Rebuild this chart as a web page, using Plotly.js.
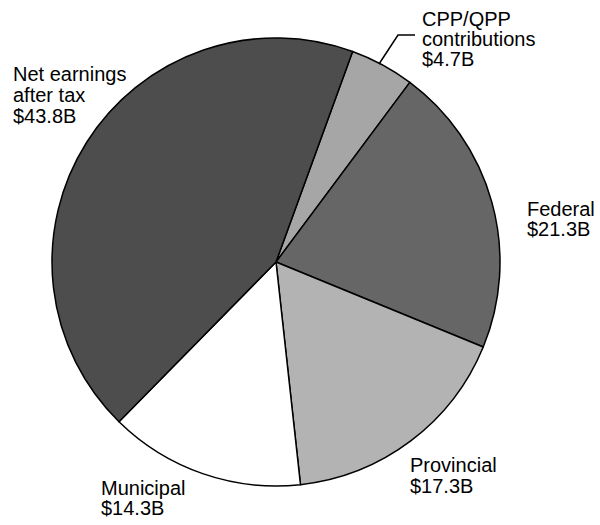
<!DOCTYPE html>
<html>
<head>
<meta charset="utf-8">
<script src="https://cdn.plot.ly/plotly-3.0.1.min.js"></script>
<style>html,body{margin:0;padding:0;background:#fff;}#chart{width:600px;height:525px;}</style>
</head>
<body>
<div id="chart"></div>
<script>
// ---- data ----
var categories = ['CPP/QPP contributions', 'Federal', 'Provincial', 'Municipal', 'Net earnings after tax'];
var labelLines = [['CPP/QPP', 'contributions'], ['Federal'], ['Provincial'], ['Municipal'], ['Net earnings', 'after tax']];
var values = [4.7, 21.3, 17.3, 14.3, 43.8];
var colors = ['#a6a6a6', '#666666', '#b3b3b3', '#ffffff', '#4d4d4d'];

// ---- layout helpers (pixel -> paper) ----
var W = 600, H = 525;
function px(x) { return x / W; }
function py(y) { return 1 - y / H; }

// label placement: left x and first baseline (pixels), line spacing
var labelPos = [
  {x: 422, y: 26, dy: 20},
  {x: 527, y: 216, dy: 20},
  {x: 410, y: 472, dy: 21},
  {x: 101, y: 495, dy: 20},
  {x: 13,  y: 81,  dy: 21}
];

var fontFam = 'Arial, "Liberation Sans", Helvetica, sans-serif';
var annotations = [];
categories.forEach(function (c, i) {
  var lines = labelLines[i].concat(['$' + values[i].toFixed(1) + 'B']);
  var p = labelPos[i];
  lines.forEach(function (t, k) {
    annotations.push({
      xref: 'paper', yref: 'paper',
      x: px(p.x - 2), y: py(p.y + k * p.dy - 7),
      xanchor: 'left', yanchor: 'middle',
      text: t, showarrow: false,
      font: {family: fontFam, size: 20, color: '#000'}
    });
  });
});

var leader = [[379, 64], [398, 35], [415, 35]];
var path = leader.map(function (p, i) { return (i ? 'L' : 'M') + px(p[0]) + ',' + py(p[1]); }).join(' ');

var trace = {
  type: 'pie',
  labels: categories,
  values: values,
  sort: false,
  direction: 'clockwise',
  rotation: 20,
  textinfo: 'none',
  hoverinfo: 'label+value',
  marker: {colors: colors, line: {color: '#000', width: 1.5}},
  domain: {x: [px(52), px(500)], y: [py(486), py(38)]}
};

var layout = {
  width: W, height: H,
  margin: {l: 0, r: 0, t: 0, b: 0},
  paper_bgcolor: '#fff',
  showlegend: false,
  font: {family: fontFam},
  annotations: annotations,
  shapes: [{type: 'path', xref: 'paper', yref: 'paper', path: path, line: {color: '#000', width: 1.5}}]
};

Plotly.newPlot('chart', [trace], layout, {displayModeBar: false, staticPlot: true});
</script>
</body>
</html>
